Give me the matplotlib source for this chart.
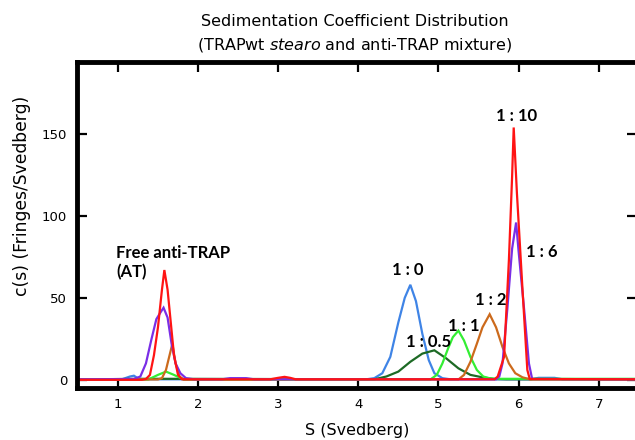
import matplotlib.pyplot as plt

# ---------------------------------------------------------------------------
# c(s) traces: (S, c(s)) points per mixing ratio
# ---------------------------------------------------------------------------
S_10 = [0.5, 1.30, 1.35, 1.40, 1.45, 1.50, 1.55, 1.58, 1.62, 1.66, 1.70, 1.75, 1.80,
        2.90, 3.00, 3.08, 3.15, 3.22, 5.70, 5.74, 5.82, 5.88, 5.92, 5.94, 5.98,
        6.05, 6.11, 6.14, 7.5]
C_10 = [0.0, 0.0, 0.5, 3, 15, 32, 55, 67, 55, 35, 15, 3, 0.3,
        0.3, 1.2, 1.8, 1.2, 0.3, 0.3, 2, 14, 73, 124, 154, 114,
        55, 6, 0.5, 0.3]

S_6 = [0.5, 1.20, 1.28, 1.35, 1.42, 1.48, 1.53, 1.57, 1.62, 1.67, 1.72, 1.78, 1.85,
       1.95, 2.30, 2.40, 2.60, 2.70, 5.72, 5.76, 5.80, 5.86, 5.92, 5.97, 6.00,
       6.07, 6.13, 6.17, 7.5]
C_6 = [0.3, 0.5, 2, 10, 25, 37, 41, 44, 38, 22, 10, 4, 1,
       0.3, 0.3, 1.0, 1.0, 0.3, 0.3, 2, 10, 43, 80, 96, 79,
       43, 10, 0.5, 0.3]

S_2 = [0.5, 1.50, 1.55, 1.60, 1.64, 1.68, 1.72, 1.77, 1.82, 5.25, 5.32, 5.40, 5.48,
       5.55, 5.64, 5.72, 5.80, 5.88, 5.96, 6.05, 6.15, 7.5]
C_2 = [0.2, 0.2, 1, 6, 14, 22, 10, 2, 0.2, 0.2, 3, 11, 22,
       32, 40, 32, 20, 10, 4, 1.5, 0.2, 0.2]

S_1 = [0.5, 1.38, 1.50, 1.60, 1.70, 1.82, 4.90, 4.98, 5.05, 5.12, 5.18, 5.25, 5.32,
       5.40, 5.48, 5.56, 5.65, 5.75, 7.5]
C_1 = [0.2, 0.2, 3, 5, 3, 0.2, 0.2, 3, 10, 19, 26, 30, 24,
       14, 6, 2, 0.8, 0.6, 0.6]

S_05 = [0.5, 1.30, 1.80, 4.20, 4.35, 4.50, 4.65, 4.80, 4.95, 5.10, 5.25, 5.40, 5.55,
        5.70, 5.85, 7.5]
C_05 = [0.2, 0.6, 0.6, 0.3, 2, 5, 11, 16, 18, 13, 7, 3, 1.5,
        0.5, 0.3, 0.3]

S_0 = [0.5, 1.05, 1.15, 1.20, 1.27, 4.10, 4.20, 4.30, 4.40, 4.50, 4.58, 4.65, 4.72,
       4.80, 4.88, 4.95, 5.05, 5.15, 6.15, 6.25, 6.45, 6.55, 7.5]
C_0 = [0.3, 0.3, 2, 2.5, 0.3, 0.3, 1, 4, 14, 35, 50, 58, 48,
       28, 12, 4, 1, 0.3, 0.3, 1.2, 1.2, 0.3, 0.3]

TRACES = [
    (S_0, C_0, "#3f84e6"),
    (S_05, C_05, "#1d6a25"),
    (S_1, C_1, "#33ee33"),
    (S_2, C_2, "#cc6a1c"),
    (S_6, C_6, "#7a2ee6"),
    (S_10, C_10, "#ff1414"),
]

# ratio labels and where they sit (data coords, bottom of text)
LABELS = [
    ("Free anti-TRAP\n(AT)", 0.98, 61),
    ("1 : 0", 4.62, 62),
    ("1 : 0.5", 4.88, 18),
    ("1 : 1", 5.32, 28),
    ("1 : 2", 5.65, 44),
    ("1 : 10", 5.975, 156),
    ("1 : 6", 6.29, 73),
]

XTICKS = [1, 2, 3, 4, 5, 6, 7]
YTICKS = [0, 50, 100, 150]

fig = plt.figure(figsize=(6.35, 4.4), dpi=100)
ax = fig.add_axes([0.1213, 0.1182, 0.882, 0.741])

for s, c, col in TRACES:
    ax.plot(s, c, color=col, lw=1.6, solid_joinstyle="miter")

for i, (txt, x, y) in enumerate(LABELS):
    ha = "left" if i == 0 else "center"
    ax.text(x, y, txt, ha=ha, va="bottom", fontsize=12, fontweight="bold",
            family="Lato", linespacing=1.2)

ax.set_xlim(0.49, 7.48)
ax.set_ylim(-5, 194)
ax.set_xticks(XTICKS)
ax.set_yticks(YTICKS)
ax.tick_params(direction="in", length=7, width=1.6, labelsize=9.5,
               top=True, right=True, pad=7)
for side in ("left", "bottom", "top", "right"):
    ax.spines[side].set_linewidth(3.5)

ax.set_xlabel("S (Svedberg)", fontsize=11.5, labelpad=9)
ax.set_ylabel("c(s) (Fringes/Svedberg)", fontsize=12.3)
ax.yaxis.set_label_coords(-0.082, 0.59)

fig.text(0.559, 0.952, "Sedimentation Coefficient Distribution",
         ha="center", va="center", fontsize=11.5)
fig.text(0.559, 0.898, "(TRAPwt $\\it{stearo}$ and anti-TRAP mixture)",
         ha="center", va="center", fontsize=11.5)

fig.savefig("out.png", dpi=100)
